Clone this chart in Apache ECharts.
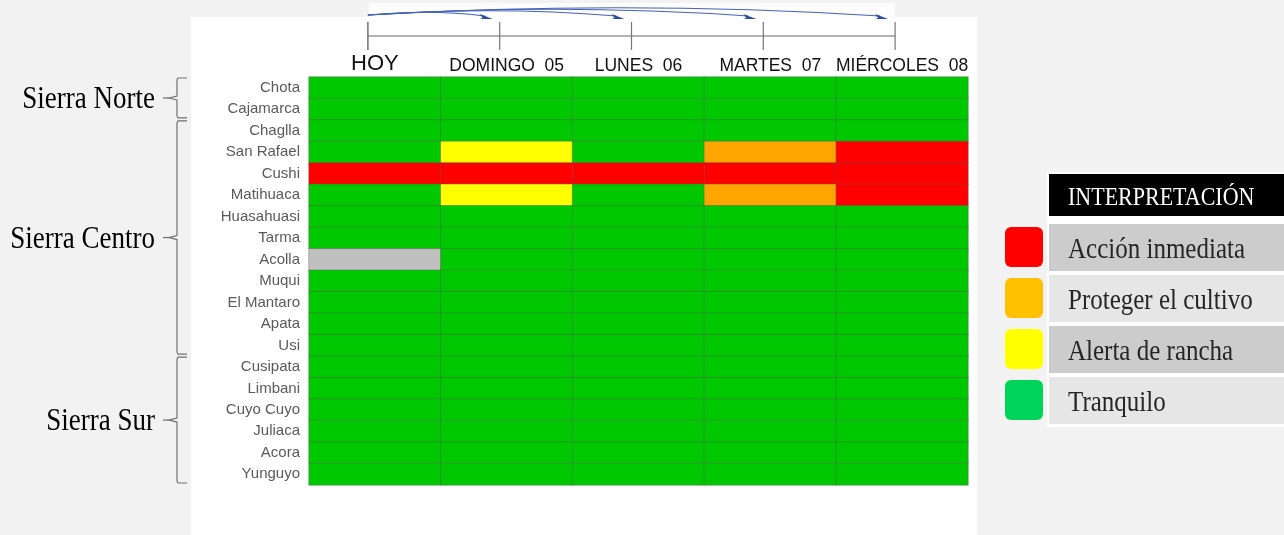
<!DOCTYPE html>
<html>
<head>
<meta charset="utf-8">
<style>
    html, body { margin: 0; padding: 0; background: #f2f2f2; }
    #main { width: 1284px; height: 535px; }
</style>
<script src="https://cdn.jsdelivr.net/npm/echarts@6/dist/echarts.min.js"></script>
</head>
<body>
<div id="main"></div>
<script>
(function () {
    var days = ['HOY', 'DOMINGO  05', 'LUNES  06', 'MARTES  07', 'MIÉRCOLES  08'];
    var places = ['Chota', 'Cajamarca', 'Chaglla', 'San Rafael', 'Cushi', 'Matihuaca', 'Huasahuasi',
        'Tarma', 'Acolla', 'Muqui', 'El Mantaro', 'Apata', 'Usi', 'Cusipata', 'Limbani',
        'Cuyo Cuyo', 'Juliaca', 'Acora', 'Yunguyo'];
    // 0 sin dato, 1 tranquilo, 2 alerta de rancha, 3 proteger el cultivo, 4 accion inmediata
    var levels = [
        [1, 1, 1, 1, 1],
        [1, 1, 1, 1, 1],
        [1, 1, 1, 1, 1],
        [1, 2, 1, 3, 4],
        [4, 4, 4, 4, 4],
        [1, 2, 1, 3, 4],
        [1, 1, 1, 1, 1],
        [1, 1, 1, 1, 1],
        [0, 1, 1, 1, 1],
        [1, 1, 1, 1, 1],
        [1, 1, 1, 1, 1],
        [1, 1, 1, 1, 1],
        [1, 1, 1, 1, 1],
        [1, 1, 1, 1, 1],
        [1, 1, 1, 1, 1],
        [1, 1, 1, 1, 1],
        [1, 1, 1, 1, 1],
        [1, 1, 1, 1, 1],
        [1, 1, 1, 1, 1]
    ];
    var levelColors = ['#c0c0c0', '#00c800', '#ffff00', '#ffa500', '#ff0000'];
    var regionNames = ['Sierra Norte', 'Sierra Centro', 'Sierra Sur'];
    var regionFirst = ['Chota', 'Chaglla', 'Cusipata'];
    var regionLast = ['Cajamarca', 'Usi', 'Yunguyo'];
    var legendTitle = 'INTERPRETACIÓN';
    var legendNames = ['Acción inmediata', 'Proteger el cultivo', 'Alerta de rancha', 'Tranquilo'];
    var legendColors = ['#ff0000', '#ffc000', '#ffff00', '#00d35a'];

    var cells = [];
    for (var r = 0; r < places.length; r++) {
        for (var c = 0; c < days.length; c++) {
            cells.push([c, r, levels[r][c]]);
        }
    }
    var pieces = levelColors.map(function (col, i) {
        return { value: i, color: col };
    });

    var chart = echarts.init(document.getElementById('main'));
    chart.setOption({
        backgroundColor: '#f2f2f2',
        animation: false,
        grid: { left: 309, top: 77, width: 659, height: 408 },
        xAxis: {
            type: 'category',
            position: 'top',
            data: days,
            axisLine: { show: false },
            axisTick: { show: false },
            splitLine: { show: false },
            axisLabel: {
                interval: 0,
                hideOverlap: false,
                margin: 2,
                fontFamily: 'Liberation Sans',
                fontSize: 17.5,
                color: '#111',
                formatter: function (v) {
                    return v === 'HOY' ? '{big|' + v + '}' : v;
                },
                rich: { big: { fontSize: 22, fontFamily: 'Liberation Sans', color: '#111' } }
            }
        },
        yAxis: {
            type: 'category',
            inverse: true,
            data: places,
            axisLine: { show: false },
            axisTick: { show: false },
            splitLine: { show: false },
            axisLabel: { interval: 0, margin: 9, fontFamily: 'Liberation Sans', fontSize: 15, color: '#5a5a5a' }
        },
        visualMap: { type: 'piecewise', show: false, dimension: 2, pieces: pieces },
        series: [{
            type: 'heatmap',
            data: cells,
            itemStyle: { borderColor: 'rgba(90,90,90,0.4)', borderWidth: 1 },
            emphasis: { disabled: true }
        }]
    });

    /**
     * decoraciones: panel, linea de tiempo, llaves de regiones, leyenda
     */
    var gfx = [];
    gfx.push({ type: 'rect', z: -10, shape: { x: 191, y: 17, width: 786, height: 518 }, style: { fill: '#fff' } });
    gfx.push({ type: 'rect', z: -10, shape: { x: 369, y: 3, width: 526, height: 14 }, style: { fill: '#fdfdfd' } });

    var ticksX = days.map(function (d, i) {
        return chart.convertToPixel({ xAxisIndex: 0 }, i) - 7;
    });
    gfx.push({ type: 'line', shape: { x1: ticksX[0], y1: 36, x2: ticksX[ticksX.length - 1], y2: 36 }, style: { stroke: '#666', lineWidth: 1 } });
    ticksX.forEach(function (x, i) {
        gfx.push({ type: 'line', shape: { x1: x, y1: 22, x2: x, y2: 50 }, style: { stroke: i === 0 ? '#3d5c3d' : '#777', lineWidth: 1.2 } });
        if (i === 0) return;
        var tx = x - 7, ty = 18, sx = ticksX[0], sy = 15;
        gfx.push({
            type: 'bezierCurve',
            shape: { x1: sx, y1: sy, x2: tx - 8, y2: ty - 2, cpx1: (sx + tx) / 2, cpy1: 9 - 3 * (i - 1) },
            style: { stroke: '#4563b8', lineWidth: 1.1, fill: null }
        });
        gfx.push({
            type: 'polygon',
            shape: { points: [[tx, ty + 1], [tx - 13, ty - 4], [tx - 10, ty], [tx - 13, ty + 1]] },
            style: { fill: '#2b4aa3' }
        });
    });

    var rowH = 408 / places.length;
    regionNames.forEach(function (name, i) {
        var top = chart.convertToPixel({ yAxisIndex: 0 }, regionFirst[i]) - rowH / 2 + 1;
        var bot = chart.convertToPixel({ yAxisIndex: 0 }, regionLast[i]) + rowH / 2 - 2;
        var mid = (top + bot) / 2;
        var xe = 187, xv = 177, xt = 169;
        gfx.push({
            type: 'polyline',
            shape: { points: [[xe, top], [xv + 1, top], [xv, top + 2], [xv, mid - 2], [xt, mid], [xv, mid + 2], [xv, bot - 2], [xv + 1, bot], [xe, bot]] },
            style: { stroke: '#707070', lineWidth: 1.2, fill: null }
        });
        gfx.push({ type: 'line', shape: { x1: 163, y1: mid, x2: xt, y2: mid }, style: { stroke: '#707070', lineWidth: 1.2 } });
        gfx.push({
            type: 'text', x: 155, y: mid + 2, scaleY: 1.15,
            style: { text: name, fontFamily: 'Liberation Serif', fontSize: 27, fill: '#000', align: 'right', verticalAlign: 'middle' }
        });
    });

    gfx.push({ type: 'rect', shape: { x: 1047, y: 172, width: 237, height: 255 }, style: { fill: '#fff' } });
    gfx.push({ type: 'rect', shape: { x: 1049, y: 174, width: 235, height: 42 }, style: { fill: '#000' } });
    gfx.push({
        type: 'text', x: 1068, y: 198, scaleY: 1.15,
        style: { text: legendTitle, fontFamily: 'Liberation Serif', fontSize: 22, fill: '#fff', verticalAlign: 'middle' }
    });
    legendNames.forEach(function (name, i) {
        var y = 224 + i * 51;
        gfx.push({ type: 'rect', shape: { x: 1049, y: y, width: 235, height: 47 }, style: { fill: i % 2 === 0 ? '#cccccc' : '#e6e6e6' } });
        gfx.push({ type: 'rect', shape: { x: 1005, y: y + 3, width: 38, height: 40, r: 6 }, style: { fill: legendColors[i] } });
        gfx.push({
            type: 'text', x: 1068, y: y + 26, scaleY: 1.15,
            style: { text: name, fontFamily: 'Liberation Serif', fontSize: 25, fill: '#262626', verticalAlign: 'middle' }
        });
    });

    chart.setOption({ graphic: gfx });

    window.addEventListener('resize', function () {
        chart.resize();
    });
})();
</script>
</body>
</html>
